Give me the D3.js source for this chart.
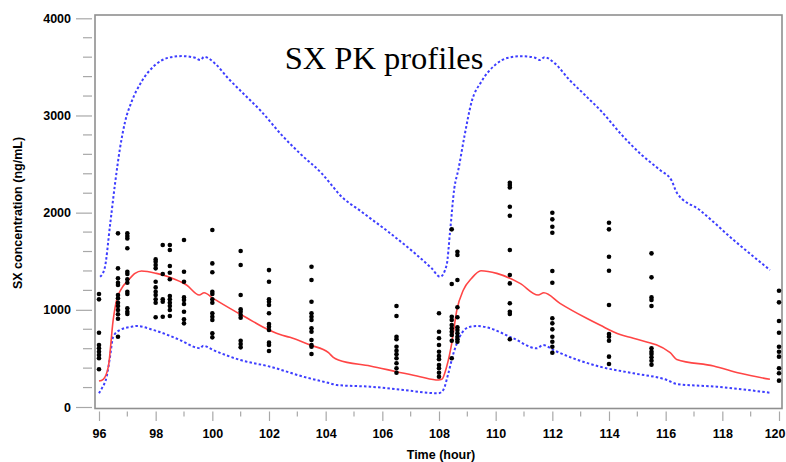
<!DOCTYPE html>
<html>
<head>
<meta charset="utf-8">
<script src="https://cdn.jsdelivr.net/npm/d3@7/dist/d3.min.js"></script>
<style>
  html, body { margin: 0; padding: 0; background: #fff; }
  svg { display: block; }
</style>
</head>
<body>
<svg id="chart" width="786" height="462"></svg>
<script>
// ---------- data ----------
const chartTitle = "SX PK profiles";
const xLabel = "Time (hour)";
const yLabel = "SX concentration (ng/mL)";
const xTickValues = [96, 98, 100, 102, 104, 106, 108, 110, 112, 114, 116, 118, 120];
const yTickValues = [0, 1000, 2000, 3000, 4000];

// observed samples
const sampleTimes = [96, 96.67, 97, 98, 98.25, 98.5, 99, 100, 101, 102, 103.5, 106.5, 108, 108.45, 108.65, 110.5, 112, 114, 115.5, 120];
const observed = [
  [1163, 1108, 764, 638, 604, 569, 535, 501, 388],
  [1787, 1427, 1324, 1279, 1255, 1152, 1118, 1073, 1039, 998, 954, 908, 723],
  [1787, 1759, 1735, 1633, 1392, 1368, 1314, 1279, 1186, 1163, 1015, 980, 957],
  [1519, 1495, 1461, 1427, 1289, 1231, 1186, 1152, 1108, 1073, 923],
  [1667, 1368, 1108, 1083, 929],
  [1667, 1615, 1451, 1382, 1314, 1142, 1108, 1073, 1039, 998, 936],
  [1718, 1392, 1289, 1128, 1101, 1060, 980, 902, 861],
  [1821, 1478, 1386, 1186, 1163, 1108, 1073, 964, 929, 895, 758, 717],
  [1605, 1461, 1152, 1005, 980, 947, 919, 682, 648, 614],
  [1409, 1289, 1108, 1083, 1049, 964, 854, 826, 792, 662, 638, 576],
  [1444, 1307, 1083, 964, 929, 895, 810, 775, 689, 638, 620, 545],
  [1039, 936, 723, 697, 620, 579, 542, 501, 450, 398, 353],
  [964, 775, 707, 638, 569, 525, 491, 432, 398, 353, 312],
  [1828, 1265, 929, 895, 844, 810, 775, 741, 682, 501],
  [1598, 1564, 1307, 1026, 923, 820, 792, 758, 723, 697, 672],
  [2308, 2284, 2260, 2061, 1968, 1615, 1358, 1272, 1067, 980, 957, 697],
  [1999, 1931, 1855, 1793, 1399, 1279, 913, 861, 799, 723, 672, 620, 559],
  [1896, 1828, 1546, 1402, 1049, 751, 723, 682, 518, 442],
  [1581, 1334, 1128, 1101, 1039, 604, 569, 545, 511, 476, 435],
  [1197, 1077, 885, 764, 620, 569, 518, 398, 347, 271]
];

// median prediction (red)
const medianTimes = [96.0, 96.15, 96.33, 96.5, 96.62, 96.8, 97.04, 97.27, 97.5, 98.03, 98.5, 99.09, 99.54, 99.71, 100.03, 100.62, 101.21, 101.8, 102.39, 102.74, 103.45, 104.1, 104.27, 104.45, 105.57, 106.51, 107.33, 107.98, 108.1, 108.27, 108.45, 108.63, 108.86, 109.15, 109.48, 110.04, 110.86, 111.5, 111.7, 112.27, 113.21, 113.68, 114.39, 114.86, 116.16, 116.39, 117.69, 118.63, 119.68];
const medianValues = [267, 285, 415, 895, 1100, 1221, 1307, 1375, 1400, 1375, 1334, 1255, 1152, 1176, 1118, 1015, 919, 820, 745, 717, 638, 559, 511, 484, 422, 363, 312, 278, 285, 415, 655, 998, 1204, 1324, 1402, 1375, 1272, 1152, 1176, 1067, 913, 843, 745, 707, 559, 490, 422, 347, 285];

// 95th percentile (blue, upper)
const upperTimes = [96.04, 96.2, 96.39, 96.56, 96.74, 96.92, 97.15, 97.5, 97.98, 98.45, 98.92, 99.39, 99.57, 99.72, 100.09, 100.56, 101.15, 101.74, 102.45, 103.15, 103.86, 104.21, 104.45, 105.27, 106.21, 107.15, 107.74, 108.04, 108.27, 108.39, 108.54, 108.68, 108.9, 109.15, 109.5, 109.98, 110.45, 110.92, 111.39, 111.57, 111.72, 112.09, 112.56, 113.15, 113.74, 114.45, 115.15, 115.8, 116.2, 116.4, 117.2, 118.4, 119.68];
const upperValues = [1340, 1427, 1872, 2284, 2661, 2935, 3141, 3347, 3519, 3594, 3611, 3594, 3570, 3604, 3536, 3382, 3210, 3038, 2798, 2593, 2404, 2284, 2198, 2009, 1803, 1581, 1427, 1340, 1461, 1803, 2250, 2438, 2790, 3140, 3350, 3520, 3595, 3610, 3594, 3570, 3600, 3536, 3380, 3210, 3040, 2800, 2595, 2438, 2335, 2202, 2027, 1718, 1410];

// 5th percentile (blue, lower)
const lowerTimes = [96.0, 96.1, 96.27, 96.39, 96.5, 96.74, 97.15, 97.33, 97.92, 98.86, 99.45, 99.57, 99.68, 100.03, 100.98, 102.04, 103.21, 104.15, 104.39, 105.57, 106.74, 107.98, 108.15, 108.33, 108.51, 108.8, 109.1, 109.33, 109.68, 110.62, 111.45, 111.68, 112.04, 113.68, 114.86, 116.04, 116.39, 117.8, 119.68];
const lowerValues = [141, 192, 312, 518, 723, 792, 826, 833, 792, 689, 610, 604, 631, 586, 484, 415, 312, 244, 226, 209, 175, 141, 175, 347, 552, 758, 826, 833, 820, 707, 604, 638, 586, 415, 347, 278, 237, 209, 147];

// ---------- drawing ----------
const svg = d3.select("#chart");
const x = d3.scaleLinear().domain([96, 120]).range([99, 779]);
const y = d3.scaleLinear().domain([0, 4000]).range([407, 18.3]);

const frame = { left: 95, right: 782, top: 15, bottom: 408.5 };
const axisColor = "#8f8f8f";
const fontFamily = "'Liberation Sans', Arial, Helvetica, sans-serif";

// plot frame
svg.append("rect")
  .attr("x", frame.left).attr("y", frame.top)
  .attr("width", frame.right - frame.left)
  .attr("height", frame.bottom - frame.top)
  .attr("fill", "none")
  .attr("stroke", axisColor)
  .attr("stroke-width", 1.6);

// y axis (offset to the left of the frame)
const yMinor = d3.range(0, 4001, 200).filter(v => v % 1000 !== 0);
const yAxisG = svg.append("g").attr("transform", "translate(92,0)");
yAxisG.call(d3.axisLeft(y).tickValues(yTickValues).tickSize(16).tickPadding(5).tickFormat(d3.format("d")));
yAxisG.selectAll(".minor").data(yMinor).enter().append("line")
  .attr("class", "minor")
  .attr("x1", -9).attr("x2", 0)
  .attr("y1", d => y(d)).attr("y2", d => y(d));

// x axis (offset below the frame)
const xMinor = d3.range(97, 120, 2);
const xAxisG = svg.append("g").attr("transform", "translate(0,411.5)");
xAxisG.call(d3.axisBottom(x).tickValues(xTickValues).tickSize(9.5).tickPadding(8).tickFormat(d3.format("d")));
xAxisG.selectAll(".minor").data(xMinor).enter().append("line")
  .attr("class", "minor")
  .attr("y1", 0).attr("y2", 5)
  .attr("x1", d => x(d)).attr("x2", d => x(d));

[yAxisG, xAxisG].forEach(g => {
  g.select(".domain").remove();
  g.selectAll("line").attr("stroke", "#a8a8a8").attr("stroke-width", 1.2);
  g.selectAll("text")
    .attr("fill", "#000")
    .style("font-family", fontFamily)
    .style("font-size", "12.5px")
    .style("font-weight", "bold");
});
// keep the last x tick label inside the page
xAxisG.selectAll(".tick text").filter(d => d === 120)
  .attr("text-anchor", "end").attr("x", 785 - x(120));

// axis titles
svg.append("text")
  .attr("x", 441).attr("y", 459)
  .attr("text-anchor", "middle")
  .style("font-family", fontFamily)
  .style("font-size", "12.5px")
  .style("font-weight", "bold")
  .text(xLabel);

svg.append("text")
  .attr("transform", "translate(22,213) rotate(-90)")
  .attr("text-anchor", "middle")
  .style("font-family", fontFamily)
  .style("font-size", "12.5px")
  .style("font-weight", "bold")
  .text(yLabel);

// title
svg.append("text")
  .attr("x", 384).attr("y", 69)
  .attr("text-anchor", "middle")
  .style("font-family", "'Liberation Serif', 'Times New Roman', serif")
  .style("font-size", "32.5px")
  .text(chartTitle);

// lines
const toPairs = (ts, vs) => ts.map((t, i) => [t, vs[i]]);
const line = d3.line().x(d => x(d[0])).y(d => y(d[1])).curve(d3.curveMonotoneX);

svg.append("path")
  .datum(toPairs(upperTimes, upperValues))
  .attr("d", line)
  .attr("fill", "none")
  .attr("stroke", "#3d3dff")
  .attr("stroke-width", 2)
  .attr("stroke-dasharray", "2.5,2.2");

svg.append("path")
  .datum(toPairs(lowerTimes, lowerValues))
  .attr("d", line)
  .attr("fill", "none")
  .attr("stroke", "#3d3dff")
  .attr("stroke-width", 2)
  .attr("stroke-dasharray", "2.5,2.2");

svg.append("path")
  .datum(toPairs(medianTimes, medianValues))
  .attr("d", line)
  .attr("fill", "none")
  .attr("stroke", "#ff4545")
  .attr("stroke-width", 1.6);

// observed points
const pts = [];
sampleTimes.forEach((t, i) => observed[i].forEach(v => pts.push([t, v])));
svg.append("g").selectAll("circle").data(pts).enter().append("circle")
  .attr("cx", d => x(d[0]))
  .attr("cy", d => y(d[1]))
  .attr("r", 2.3)
  .attr("fill", "#000");
</script>
</body>
</html>
